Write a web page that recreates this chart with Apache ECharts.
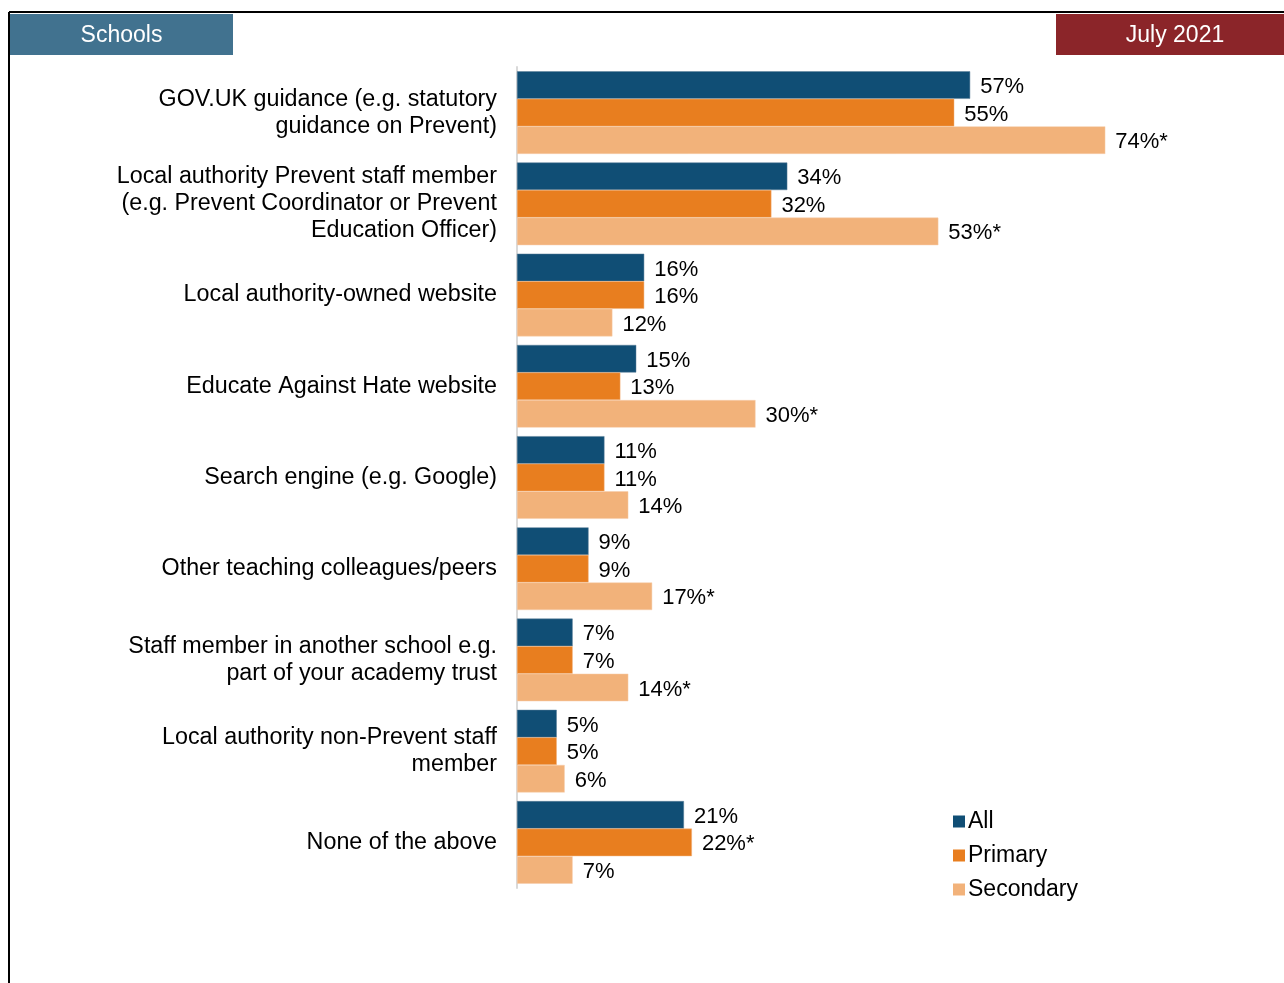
<!DOCTYPE html>
<html>
<head>
<meta charset="utf-8">
<script src="https://cdn.jsdelivr.net/npm/echarts@6/dist/echarts.min.js"></script>
<style>
  html, body { margin: 0; padding: 0; background: #fff; }
  #main { width: 1284px; height: 983px; }
</style>
</head>
<body>
<div id="main"></div>
<script>
// 数据
var categories = [
  'GOV.UK guidance (e.g. statutory\nguidance on Prevent)',
  'Local authority Prevent staff member\n(e.g. Prevent Coordinator or Prevent\nEducation Officer)',
  'Local authority-owned website',
  'Educate Against Hate website',
  'Search engine (e.g. Google)',
  'Other teaching colleagues/peers',
  'Staff member in another school e.g.\npart of your academy trust',
  'Local authority non-Prevent staff\nmember',
  'None of the above'
];
var allValues = [57, 34, 16, 15, 11, 9, 7, 5, 21];
var primaryValues = [55, 32, 16, 13, 11, 9, 7, 5, 22];
var secondaryValues = [74, 53, 12, 30, 14, 17, 14, 6, 7];
// 显著差异标记 (*)
var primarySig = [0, 0, 0, 0, 0, 0, 0, 0, 1];
var secondarySig = [1, 1, 0, 1, 0, 1, 1, 0, 0];

var FONT = 'Liberation Sans, Arial, sans-serif';
var chart = echarts.init(document.getElementById('main'));

function labelFor(sig) {
  return {
    show: true,
    position: 'right',
    distance: 10,
    offset: [0, 2],
    color: '#000',
    fontSize: 22,
    fontFamily: FONT,
    formatter: function (p) {
      return p.value + '%' + (sig && sig[p.dataIndex] ? '*' : '');
    }
  };
}

var option = {
  animation: false,
  textStyle: { fontFamily: FONT },
  grid: { left: 517, right: 131, top: 67, bottom: 95 },
  legend: {
    orient: 'vertical',
    left: 948,
    top: 805,
    itemWidth: 12,
    itemHeight: 12,
    itemGap: 11,
    icon: 'rect',
    itemStyle: { borderWidth: 0 },
    textStyle: { fontSize: 23, color: '#000', padding: [0, 0, 0, -2] },
    data: ['All', 'Primary', 'Secondary']
  },
  xAxis: {
    type: 'value',
    min: 0,
    max: 80,
    show: false
  },
  yAxis: {
    type: 'category',
    inverse: true,
    data: categories,
    axisLine: { lineStyle: { color: '#d9d9d9', width: 2 } },
    axisTick: { length: 7, lineStyle: { color: '#d9d9d9', width: 2 } },
    axisLabel: {
      color: '#000',
      fontSize: 23.3,
      lineHeight: 27,
      margin: 20,
      padding: [3, 0, 0, 0],
      align: 'right'
    }
  },
  series: [
    {
      name: 'All',
      type: 'bar',
      data: allValues,
      barGap: '0%',
      barCategoryGap: '9.4%',
      itemStyle: { color: '#104e75', borderColor: '#5a7f98', borderWidth: 0.5 },
      label: labelFor(null)
    },
    {
      name: 'Primary',
      type: 'bar',
      data: primaryValues,
      itemStyle: { color: '#e87e1f', borderColor: '#f0b07a', borderWidth: 0.5 },
      label: labelFor(primarySig)
    },
    {
      name: 'Secondary',
      type: 'bar',
      data: secondaryValues,
      itemStyle: { color: '#f2b27a', borderColor: '#f6ccaa', borderWidth: 0.5 },
      label: labelFor(secondarySig)
    }
  ],
  graphic: [
    // 边框
    { type: 'line', shape: { x1: 9, y1: 12, x2: 1284, y2: 12 }, style: { stroke: '#000', lineWidth: 2 } },
    { type: 'line', shape: { x1: 9, y1: 12, x2: 9, y2: 983 }, style: { stroke: '#000', lineWidth: 2 } },
    // 标题块
    { type: 'rect', shape: { x: 10, y: 14, width: 223, height: 41 }, style: { fill: '#41728f' } },
    {
      type: 'text', x: 121.5, y: 36,
      style: { text: 'Schools', fill: '#fff', fontSize: 23, align: 'center', verticalAlign: 'middle', fontFamily: FONT }
    },
    { type: 'rect', shape: { x: 1056, y: 14, width: 228, height: 41 }, style: { fill: '#8b2529' } },
    {
      type: 'text', x: 1175, y: 36,
      style: { text: 'July 2021', fill: '#fff', fontSize: 23, align: 'center', verticalAlign: 'middle', fontFamily: FONT }
    }
  ]
};
chart.setOption(option);
</script>
</body>
</html>
